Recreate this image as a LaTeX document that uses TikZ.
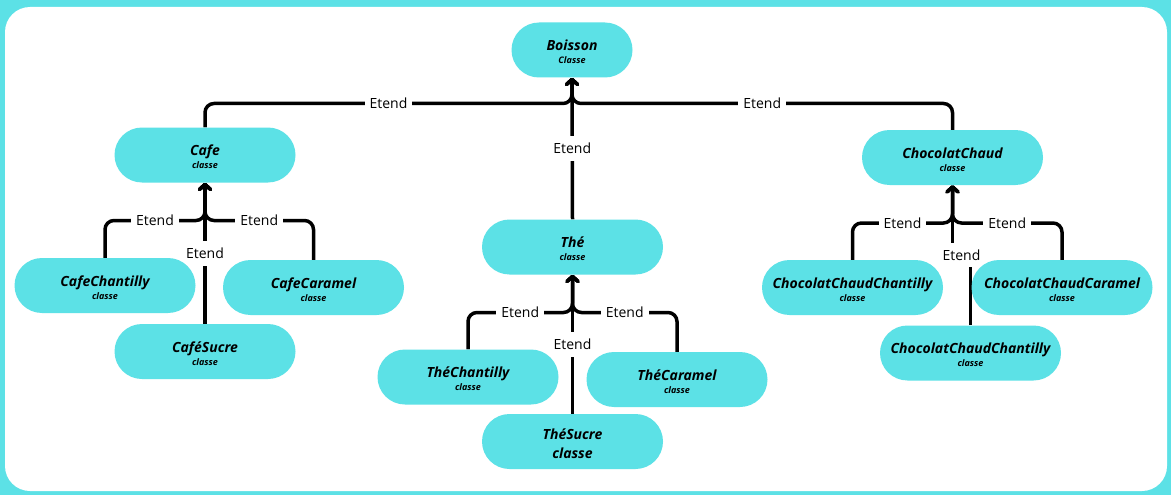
\documentclass[tikz,border=0pt]{standalone}
\usepackage{fontspec}
\newfontfamily\osans{Open Sans}
\usetikzlibrary{arrows.meta}
\definecolor{cyanbox}{HTML}{5CE1E6}
\pgfdeclarelayer{back}
\pgfdeclarelayer{lines}
\pgfsetlayers{back,lines,main}
\tikzset{
  box/.style={fill=cyanbox, rounded corners=27.5pt, minimum width=181pt, minimum height=55pt,
    inner sep=0pt, align=center, text=black, font=\osans\bfseries\itshape\fontsize{14}{13}\selectfont},
  conn/.style={draw=black, line width=3.5pt, rounded corners=9pt,
    -{Straight Barb[length=5pt,width=11pt,round]}},
  lbl/.style={fill=white, inner xsep=5pt, inner ysep=7pt, text=black,
    font=\osans\fontsize{14}{16}\selectfont, rounded corners=0pt}
}
\newcommand{\cls}[1]{{\fontsize{9}{13}\selectfont #1}}
\newcommand{\up}{\rule{0pt}{14.5pt}}
\begin{document}
\begin{tikzpicture}[x=1pt,y=-1pt]
\useasboundingbox (0,0) rectangle (1171,495);
\begin{pgfonlayer}{back}
\fill[cyanbox] (0,0) rectangle (1171,495);
\fill[white, rounded corners=25pt] (5,7) rectangle (1167,491);
\end{pgfonlayer}

% nodes
\node[box, minimum width=121pt] (boisson) at (572,50) {\up Boisson\\\cls{Classe}};
\node[box] (cafe) at (205,155) {\up Cafe\\\cls{classe}};
\node[box] (cafechan) at (105,285.5) {\up CafeChantilly\\\cls{classe}};
\node[box] (cafecar) at (313.5,287.5) {\up CafeCaramel\\\cls{classe}};
\node[box] (cafesuc) at (205,351.5) {\up CaféSucre\\\cls{classe}};
\node[box] (the) at (572.5,247) {\up Thé\\\cls{classe}};
\node[box] (thechan) at (468,377) {\up ThéChantilly\\\cls{classe}};
\node[box] (thecar) at (677,379.5) {\up ThéCaramel\\\cls{classe}};
\node[box, font=\osans\bfseries\itshape\fontsize{14}{19}\selectfont] (thesuc) at (572.5,441.5) {\rule{0pt}{15pt}ThéSucre\\classe};
\node[box] (choc) at (952.5,157.5) {\up ChocolatChaud\\\cls{classe}};
\node[box] (chocchan) at (852.5,287.5) {\up ChocolatChaudChantilly\\\cls{classe}};
\node[box] (choccar) at (1062,287.5) {\up ChocolatChaudCaramel\\\cls{classe}};
\node[box] (chocchanb) at (970.5,353) {\up ChocolatChaudChantilly\\\cls{classe}};

% join coordinates
\coordinate (bj) at (572,103.5);
\coordinate (cj) at (205,220.5);
\coordinate (tj) at (572.5,312.5);
\coordinate (hj) at (952.5,223);
\coordinate (jog) at (961.5,255);

\begin{pgfonlayer}{lines}
% top level
\draw[conn] (cafe.north) |- node[lbl,pos=0.75]{Etend} (bj) -- (boisson.south);
\draw[conn] (choc.north) |- node[lbl,pos=0.75]{Etend} (bj) -- (boisson.south);
\draw[conn] (the.north) -- node[lbl]{Etend} (boisson.south);

% cafe cluster
\draw[conn] (cafechan.north) |- node[lbl,pos=0.75]{Etend} (cj) -- (cafe.south);
\draw[conn] (cafecar.north) |- node[lbl,pos=0.75]{Etend} (cj) -- (cafe.south);
\draw[conn] (cafesuc.north) -- node[lbl]{Etend} (cafe.south);

% the cluster
\draw[conn] (thechan.north) |- node[lbl,pos=0.75]{Etend} (tj) -- (the.south);
\draw[conn] (thecar.north) |- node[lbl,pos=0.75]{Etend} (tj) -- (the.south);
\draw[conn] (thesuc.north) -- node[lbl]{Etend} (the.south);

% chocolat cluster
\draw[conn] (chocchan.north) |- node[lbl,pos=0.75]{Etend} (hj) -- (choc.south);
\draw[conn] (choccar.north) |- node[lbl,pos=0.75]{Etend} (hj) -- (choc.south);
\draw[conn, rounded corners=0pt] (chocchanb.north) |- (jog) -| (choc.south);
\node[lbl] (joglbl) at (jog) {Etend};
\end{pgfonlayer}
\end{tikzpicture}
\end{document}
